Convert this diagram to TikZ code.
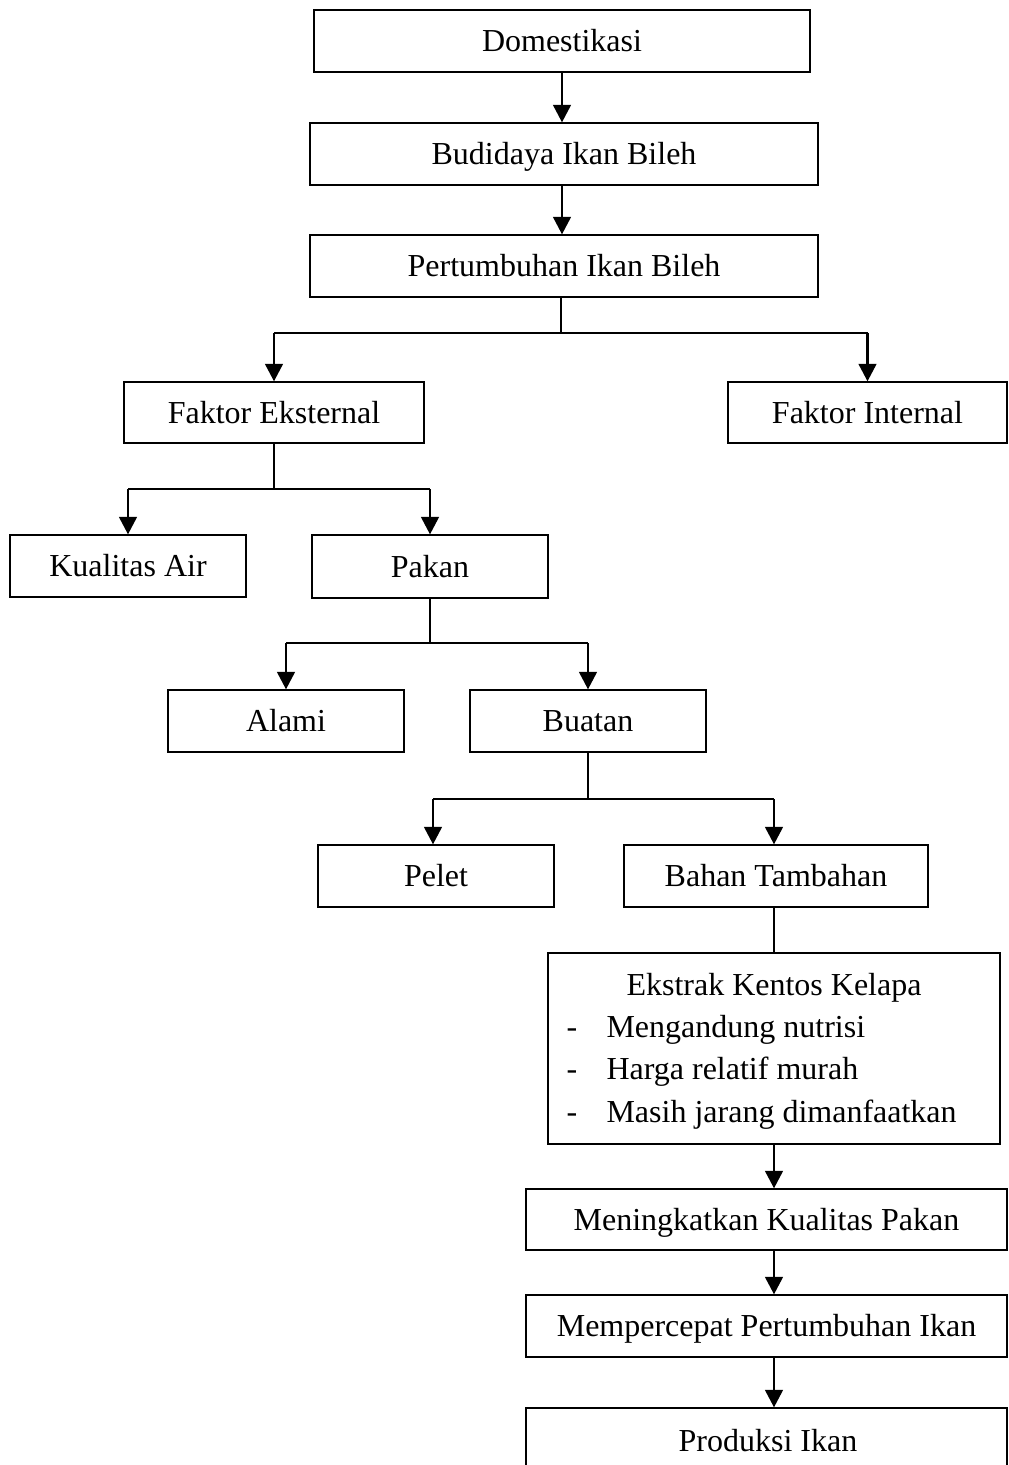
\documentclass[tikz,border=0pt]{standalone}
\usepackage{fontspec}
\setmainfont{Liberation Serif}
\usetikzlibrary{arrows.meta}
\begin{document}
\begin{tikzpicture}[x=0.375pt,y=-0.375pt,
  box/.style={draw, line width=0.45pt, inner sep=0pt, text height=7.9pt, text depth=0pt,
    font=\fontsize{12}{14.4}\selectfont},
  txt/.style={inner sep=0pt, anchor=base west, font=\fontsize{12}{14.4}\selectfont},
  arr/.style={line width=1.1pt, -{Triangle[width=6.6pt,length=6.6pt]}},
  bus/.style={line width=0.7pt},
  link/.style={line width=0.8pt}]
\useasboundingbox (0,0) rectangle (1008,1465);
% boxes
\node[box, minimum width=186pt, minimum height=23.25pt] (dom) at (562,41) {Domestikasi};
\node[box, minimum width=190.5pt, minimum height=23.25pt] (bud) at (564,154) {Budidaya Ikan Bileh};
\node[box, minimum width=190.5pt, minimum height=23.25pt] (per) at (564,266) {Pertumbuhan Ikan Bileh};
\node[box, minimum width=112.5pt, minimum height=22.9pt] (fe) at (274,412.5) {Faktor Eksternal};
\node[box, minimum width=104.6pt, minimum height=22.9pt] (fi) at (867.5,412.5) {Faktor Internal};
\node[box, minimum width=88.5pt, minimum height=23.25pt] (ka) at (128,566) {Kualitas Air};
\node[box, minimum width=88.5pt, minimum height=23.6pt] (pak) at (430,566.5) {Pakan};
\node[box, minimum width=88.5pt, minimum height=23.25pt] (ala) at (286,721) {Alami};
\node[box, minimum width=88.5pt, minimum height=23.25pt] (bua) at (588,721) {Buatan};
\node[box, minimum width=88.5pt, minimum height=23.25pt] (pel) at (436,876) {Pelet};
\node[box, minimum width=114pt, minimum height=23.25pt] (bah) at (776,876) {Bahan Tambahan};
\node[box, minimum width=169.5pt, minimum height=71.6pt] (ek) at (774,1048.5) {};
\node[txt, anchor=base] (ekt) at (774,995) {Ekstrak Kentos Kelapa};
\node[txt, anchor=base] (d1) at (572,1037) {-};
\node[txt] (e1) at (606,1037) {Mengandung nutrisi};
\node[txt, anchor=base] (d2) at (572,1079) {-};
\node[txt] (e2) at (606,1079) {Harga relatif murah};
\node[txt, anchor=base] (d3) at (572,1122) {-};
\node[txt] (e3) at (606,1122) {Masih jarang dimanfaatkan};
\node[box, minimum width=180.4pt, minimum height=22.9pt] (mk) at (766.5,1219.5) {Meningkatkan Kualitas Pakan};
\node[box, minimum width=180.4pt, minimum height=23.25pt] (mp) at (766.5,1326) {Mempercepat Pertumbuhan Ikan};
\node[box, minimum width=180.4pt, minimum height=24pt, text height=0pt] (pi) at (766.5,1440) {};
\node[txt, anchor=base] (pit) at (768,1451) {Produksi Ikan};
% arrows top
\draw[arr] (dom.south) -- (dom.south |- bud.north);
\draw[arr] (bud.south -| dom.south) -- (dom.south |- per.north);
% split 1
\coordinate (j1) at (561,333);
\draw[bus] (per.south -| j1) -- (j1);
\draw[bus] (fe.north |- j1) -- (fi.north |- j1);
\draw[arr] (fe.north |- j1) -- (fe.north);
\draw[arr] (fi.north |- j1) -- (fi.north);
% split 2
\coordinate (j2) at (274,489);
\draw[bus] (fe.south) -- (j2);
\draw[bus] (ka.north |- j2) -- (pak.north |- j2);
\draw[arr] (ka.north |- j2) -- (ka.north);
\draw[arr] (pak.north |- j2) -- (pak.north);
% split 3
\coordinate (j3) at (430,643);
\draw[bus] (pak.south) -- (j3);
\draw[bus] (ala.north |- j3) -- (bua.north |- j3);
\draw[arr] (ala.north |- j3) -- (ala.north);
\draw[arr] (bua.north |- j3) -- (bua.north);
% split 4
\coordinate (j4) at (588,799);
\draw[bus] (bua.south) -- (j4);
\coordinate (pl) at (433,799);
\coordinate (bh) at (774,799);
\draw[bus] (pl) -- (bh);
\draw[arr] (pl) -- (pl |- pel.north);
\draw[arr] (bh) -- (bh |- bah.north);
% link to Ekstrak
\draw[link] (bah.south -| ek.north) -- (ek.north);
% lower chain
\draw[arr] (ek.south) -- (ek.south |- mk.north);
\draw[arr] (mk.south -| ek.south) -- (ek.south |- mp.north);
\draw[arr] (mp.south -| ek.south) -- (ek.south |- pi.north);
\end{tikzpicture}
\end{document}
